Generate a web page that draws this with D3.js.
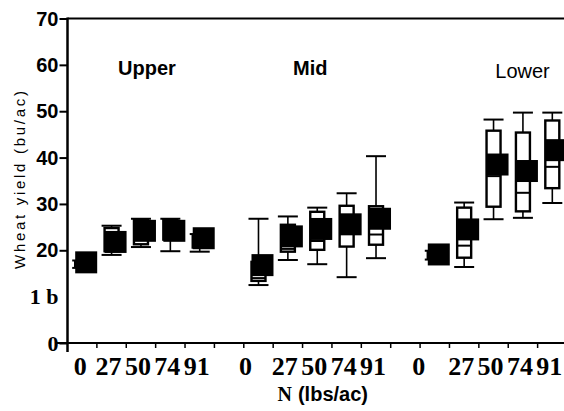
<!DOCTYPE html>
<html>
<head>
<meta charset="utf-8">
<script src="https://cdn.jsdelivr.net/npm/d3@7"></script>
<style>
  body { margin: 0; background: #fff; }
  svg { display: block; }
</style>
</head>
<body>
<svg width="564" height="411"></svg>
<script>
// landscape position groups and N rates (lbs/ac)
var groups = ["Upper", "Mid", "Lower"];
var rates = ["0", "27", "50", "74", "91"];

// box stats, one row per group, one value per rate (bu/ac)
var whiskerLow = [
  [16.2, 19.0, 20.7, 19.8, 19.7],
  [12.5, 17.9, 17.0, 14.2, 18.3],
  [18.0, 16.4, 26.7, 27.0, 30.2]
];
var quart1 = [
  [16.5, 19.8, 21.3, 22.3, 20.6],
  [13.4, 19.7, 20.1, 20.8, 21.2],
  [18.3, 18.4, 29.4, 28.4, 33.4]
];
var medians = [
  [17.0, 21.0, 24.0, 24.0, 22.0],
  [14.0, 20.3, 22.0, 25.0, 23.4],
  [18.8, 21.0, 36.0, 32.4, 38.0]
];
var quart3 = [
  [17.6, 24.8, 26.5, 26.5, 23.3],
  [17.5, 25.5, 28.3, 29.6, 29.5],
  [19.6, 29.2, 45.8, 45.4, 48.0]
];
var whiskerHigh = [
  [17.8, 25.3, 26.8, 26.8, 23.5],
  [26.8, 27.3, 29.2, 32.3, 40.3],
  [19.9, 30.3, 48.2, 49.7, 49.7]
];
var means = [
  [17.4, 21.8, 24.2, 24.2, 22.6],
  [16.8, 23.0, 24.6, 25.6, 26.8],
  [19.1, 24.5, 38.5, 37.1, 41.6]
];

var yTicks = [0, 10, 20, 30, 40, 50, 60, 70];
var yTickLabels = ["0", "1 b", "20", "30", "40", "50", "60", "70"];

var svg = d3.select("svg"),
  width = +svg.attr("width"),
  height = +svg.attr("height");

var plotLeft = 67.5, plotTop = 18.5, plotBottom = 343;
var serif = "'Liberation Serif', 'Times New Roman', serif";
var sans = "'Liberation Sans', Arial, sans-serif";

// one slot per box, with an empty slot between groups
var slots = d3.range(groups.length * (rates.length + 1) - 1);
var x = d3.scaleBand().domain(slots).range([plotLeft, 567]).padding(0);
var y = d3.scaleLinear().domain([0, 70]).range([plotBottom, plotTop]);
var bw = x.bandwidth();

var boxes = [];
groups.forEach(function(g, gi) {
  rates.forEach(function(r, ri) {
    boxes.push({
      group: g, rate: r, slot: gi * (rates.length + 1) + ri,
      lo: whiskerLow[gi][ri], q1: quart1[gi][ri], med: medians[gi][ri],
      q3: quart3[gi][ri], hi: whiskerHigh[gi][ri], mean: means[gi][ri]
    });
  });
});

// frame
svg.append("line")
  .attr("x1", plotLeft).attr("x2", width).attr("y1", plotTop).attr("y2", plotTop)
  .attr("stroke", "#000").attr("stroke-width", 2);
svg.append("line")
  .attr("x1", plotLeft).attr("x2", plotLeft).attr("y1", plotTop - 1).attr("y2", plotBottom + 9)
  .attr("stroke", "#000").attr("stroke-width", 2.5);
svg.append("line")
  .attr("x1", 57).attr("x2", width).attr("y1", plotBottom).attr("y2", plotBottom)
  .attr("stroke", "#000").attr("stroke-width", 2);

// y axis
var yAxis = svg.append("g")
  .attr("transform", "translate(" + plotLeft + ",0)")
  .call(d3.axisLeft(y).tickValues(yTicks).tickSize(8).tickPadding(1)
    .tickFormat(function(d, i) { return yTickLabels[i]; }));
yAxis.select(".domain").remove();
yAxis.selectAll(".tick line").attr("stroke", "#000").attr("stroke-width", 2)
  .filter(function(d) { return d === 10; }).remove();
yAxis.selectAll(".tick text")
  .attr("fill", "#000")
  .attr("dy", "0.33em")
  .style("font-weight", "bold")
  .style("font-family", function(d) { return d <= 10 ? serif : sans; })
  .style("font-size", function(d) { return d <= 10 ? "22px" : "20px"; });

// x ticks at slot boundaries
svg.append("g").selectAll("line")
  .data(slots.slice(1))
  .enter().append("line")
  .attr("x1", d => x(d)).attr("x2", d => x(d))
  .attr("y1", plotBottom).attr("y2", plotBottom + 5)
  .attr("stroke", "#000").attr("stroke-width", 1.5);

// x tick labels (the zero labels sit a bit left in the original)
var zeroShift = [-2, -13, -16];
svg.append("g").selectAll("text")
  .data(boxes)
  .enter().append("text")
  .attr("x", d => x(d.slot) + bw / 2 + (d.rate === "0" ? zeroShift[groups.indexOf(d.group)] : -3))
  .attr("y", 375)
  .attr("text-anchor", "middle")
  .style("font-family", serif)
  .style("font-weight", "bold")
  .style("font-size", "26px")
  .text(d => d.rate);

// boxes
var box = svg.append("g").selectAll("g")
  .data(boxes)
  .enter().append("g")
  .attr("transform", d => "translate(" + (x(d.slot) + bw / 2) + ",0)");

box.append("line")
  .attr("y1", d => y(d.lo)).attr("y2", d => y(d.hi))
  .attr("stroke", "#000").attr("stroke-width", 1.6);

box.selectAll(".cap")
  .data(d => [d.lo, d.hi])
  .enter().append("line")
  .attr("class", "cap")
  .attr("x1", -10).attr("x2", 10)
  .attr("y1", d => y(d)).attr("y2", d => y(d))
  .attr("stroke", "#000").attr("stroke-width", 2);

box.append("rect")
  .attr("x", -7).attr("width", 14)
  .attr("y", d => y(d.q3))
  .attr("height", d => y(d.q1) - y(d.q3))
  .attr("fill", "#fff").attr("stroke", "#000").attr("stroke-width", 2.4);

box.append("line")
  .attr("x1", -7).attr("x2", 7)
  .attr("y1", d => y(d.med)).attr("y2", d => y(d.med))
  .attr("stroke", "#000").attr("stroke-width", 2);

// filled mean marker, sits off to the right of the box
box.append("rect")
  .attr("x", -7).attr("width", 22)
  .attr("y", d => y(d.mean) - 11).attr("height", 22)
  .attr("fill", "#000");

// group labels
var groupLabelShift = [6, -7, 29];
svg.append("g").selectAll("text")
  .data(groups)
  .enter().append("text")
  .attr("x", (d, i) => x(i * (rates.length + 1) + 2) + bw / 2 + groupLabelShift[i])
  .attr("y", (d, i) => i === 2 ? 78 : 75)
  .attr("text-anchor", "middle")
  .style("font-family", sans)
  .style("font-weight", (d, i) => i === 2 ? "normal" : "bold")
  .style("font-size", "20px")
  .text(d => d);

// axis titles
var xTitle = svg.append("text")
  .attr("x", (plotLeft + width) / 2 + 7)
  .attr("y", 401)
  .attr("text-anchor", "middle")
  .style("font-weight", "bold")
  .style("font-size", "20px");
xTitle.append("tspan").style("font-family", serif).text("N");
xTitle.append("tspan").attr("dx", 6).style("font-family", sans).text("(lbs/ac)");

svg.append("text")
  .attr("transform", "translate(25,180) rotate(-90)")
  .attr("text-anchor", "middle")
  .attr("textLength", 178)
  .attr("lengthAdjust", "spacing")
  .style("font-family", sans)
  .style("font-size", "15px")
  .text("Wheat yield (bu/ac)");
</script>
</body>
</html>
